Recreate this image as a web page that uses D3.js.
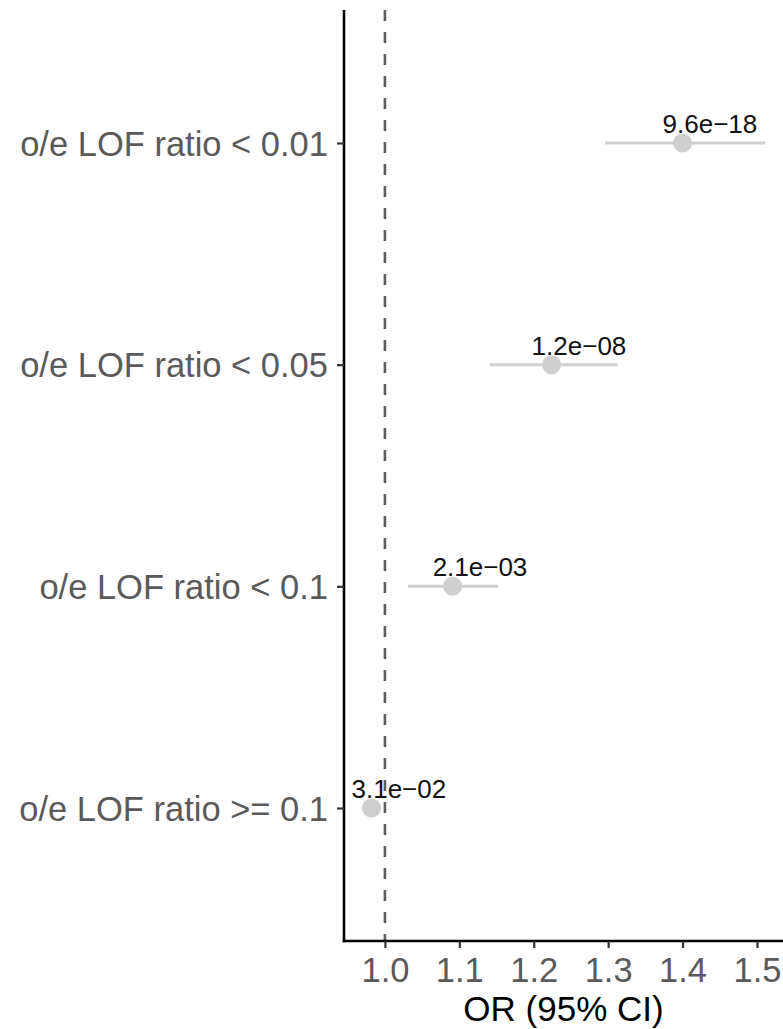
<!DOCTYPE html>
<html>
<head>
<meta charset="utf-8">
<script src="https://cdn.jsdelivr.net/npm/d3@7"></script>
<style>
  body { margin: 0; background: #fff; }
  svg { display: block; font-family: "Liberation Sans", Arial, Helvetica, sans-serif; }
</style>
</head>
<body>
<div id="chart"></div>
<script>
const width = 783;
const height = 1029;

// data
const categories = ["o/e LOF ratio < 0.01", "o/e LOF ratio < 0.05",
                    "o/e LOF ratio < 0.1", "o/e LOF ratio >= 0.1"];
const oddsRatio = [1.400, 1.224, 1.091, 0.982];
const ciLow     = [1.296, 1.141, 1.031, 0.970];
const ciHigh    = [1.511, 1.313, 1.152, 0.995];
const pLabels   = ["9.6e\u221218", "1.2e\u221208", "2.1e\u221203", "3.1e\u221202"];
const xTicks    = [1.0, 1.1, 1.2, 1.3, 1.4, 1.5];

const rows = categories.map((c, i) => ({
  cat: c, or: oddsRatio[i], lo: ciLow[i], hi: ciHigh[i], p: pLabels[i]
}));

const margin = {top: 10, right: 0, bottom: 88, left: 344};

const svg = d3.select("#chart").append("svg")
    .attr("width", width)
    .attr("height", height);

const x = d3.scaleLinear()
    .domain([0.945, 1.535])
    .range([margin.left, width - margin.right]);

const y = d3.scalePoint()
    .domain(categories)
    .range([margin.top, height - margin.bottom])
    .padding(0.6);

// reference line at OR = 1
svg.append("line")
    .attr("x1", x(1)).attr("x2", x(1))
    .attr("y1", margin.top).attr("y2", height - margin.bottom)
    .attr("stroke", "#5e5e5e")
    .attr("stroke-width", 2.6)
    .attr("stroke-dasharray", "11,11");

// CI bars
svg.append("g")
    .selectAll("line")
    .data(rows)
    .join("line")
    .attr("x1", d => x(d.lo))
    .attr("x2", d => x(d.hi))
    .attr("y1", d => y(d.cat))
    .attr("y2", d => y(d.cat))
    .attr("stroke", "#d0d0d0")
    .attr("stroke-width", 3);

// points
svg.append("g")
    .selectAll("circle")
    .data(rows)
    .join("circle")
    .attr("cx", d => x(d.or))
    .attr("cy", d => y(d.cat))
    .attr("r", 9.5)
    .attr("fill", "#cfcfcf");

// p value labels
svg.append("g")
    .selectAll("text")
    .data(rows)
    .join("text")
    .attr("x", d => x(d.or) - 20)
    .attr("y", d => y(d.cat) - 10)
    .attr("font-size", 26)
    .attr("fill", "#111")
    .text(d => d.p);

// axes
const xAxis = svg.append("g")
    .attr("transform", `translate(0,${height - margin.bottom})`)
    .call(d3.axisBottom(x).tickValues(xTicks).tickFormat(d3.format(".1f"))
          .tickSize(7).tickPadding(8).tickSizeOuter(0));

const yAxis = svg.append("g")
    .attr("transform", `translate(${margin.left},0)`)
    .call(d3.axisLeft(y).tickSize(7).tickPadding(9).tickSizeOuter(0));

[xAxis, yAxis].forEach(g => {
  g.select(".domain").attr("stroke", "#000").attr("stroke-width", 2.6);
  g.selectAll(".tick line").attr("stroke", "#333").attr("stroke-width", 2.2);
  g.selectAll(".tick text").attr("fill", "#5a5a5a").attr("font-size", 34.5)
      .attr("font-family", "Liberation Sans, Arial, sans-serif");
});

// extend x axis line to meet y axis
xAxis.select(".domain").attr("d", `M${margin.left - 1.3},0H${width}`);
yAxis.select(".domain").attr("d", `M0,${margin.top}V${height - margin.bottom + 1.3}`);

xAxis.selectAll(".tick text").attr("y", 41).attr("dy", 0);
yAxis.selectAll(".tick text").attr("dy", "0.35em");

// x axis title
svg.append("text")
    .attr("x", (margin.left + width) / 2)
    .attr("y", 1021)
    .attr("text-anchor", "middle")
    .attr("font-size", 35)
    .attr("fill", "#000")
    .text("OR (95% CI)");
</script>
</body>
</html>
